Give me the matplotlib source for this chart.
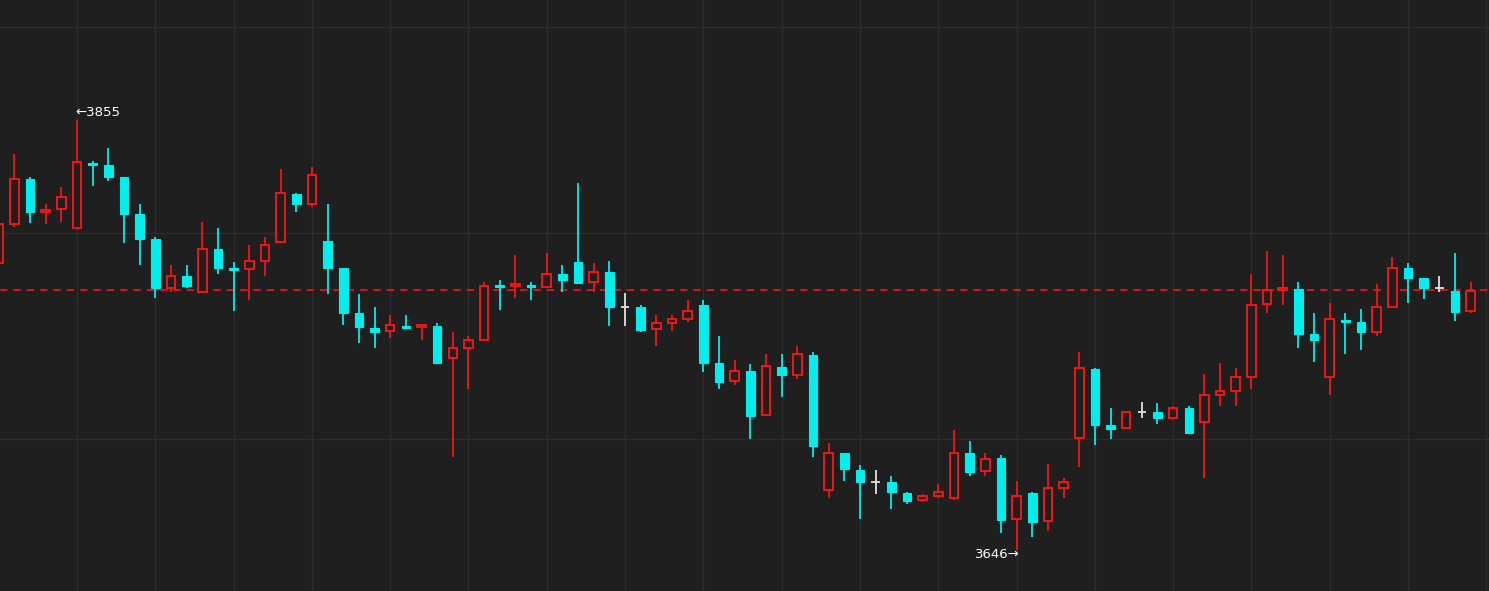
import numpy as np
import matplotlib.pyplot as plt

# -------------------------------------------------------------
#  DATOS
# -------------------------------------------------------------

opens = [3785.4, 3804.4, 3826.2, 3810.0, 3811.5, 3802.3, 3834.1, 3833.0, 3827.2, 3809.2,
         3797.1, 3773.2, 3779.1, 3771.2, 3792.2, 3782.9, 3782.4, 3786.3, 3795.5, 3818.9,
         3813.9, 3796.1, 3783.0, 3761.2, 3753.9, 3752.3, 3754.9, 3754.2, 3754.9, 3739.2,
         3744.0, 3747.9, 3774.8, 3774.1, 3774.8, 3773.9, 3780.1, 3785.9, 3776.1, 3781.1,
         3763.9, 3764.1, 3753.3, 3756.2, 3758.1, 3765.0, 3736.9, 3728.0, 3733.0, 3711.5,
         3735.0, 3730.9, 3740.8, 3675.1, 3693.2, 3685.0, 3679.0, 3679.1, 3673.6, 3670.2,
         3672.2, 3671.2, 3693.2, 3684.3, 3690.8, 3661.0, 3673.6, 3660.0, 3676.1, 3700.3,
         3733.8, 3706.6, 3705.2, 3713.0, 3713.0, 3710.0, 3715.0, 3708.1, 3721.2, 3723.2,
         3730.0, 3765.4, 3772.2, 3772.7, 3751.0, 3730.0, 3757.8, 3756.8, 3751.8, 3763.9,
         3782.9, 3778.0, 3773.2, 3771.8, 3762.0]

highs = [3805.3, 3838.3, 3827.2, 3813.9, 3822.2, 3855.0, 3835.1, 3841.1, 3827.2, 3813.9,
         3798.1, 3784.3, 3784.3, 3805.2, 3802.3, 3786.1, 3794.0, 3797.9, 3830.9, 3819.3,
         3831.9, 3813.9, 3783.0, 3770.2, 3764.1, 3760.0, 3760.0, 3755.2, 3756.2, 3752.1,
         3749.9, 3776.1, 3777.0, 3789.3, 3776.1, 3790.1, 3784.5, 3824.1, 3785.3, 3786.3,
         3770.9, 3764.9, 3760.0, 3760.0, 3767.3, 3767.3, 3749.9, 3738.2, 3736.3, 3741.1,
         3741.1, 3745.0, 3742.1, 3697.9, 3693.2, 3687.2, 3685.0, 3682.1, 3674.1, 3673.2,
         3678.0, 3704.2, 3698.9, 3693.1, 3692.1, 3679.8, 3674.1, 3688.0, 3680.9, 3742.1,
         3734.3, 3714.9, 3713.0, 3718.0, 3717.3, 3715.9, 3715.9, 3731.7, 3737.0, 3734.3,
         3780.0, 3791.1, 3789.2, 3776.1, 3761.0, 3765.9, 3761.0, 3763.0, 3775.1, 3788.2,
         3785.3, 3778.0, 3779.1, 3790.1, 3776.1]

lows = [3784.5, 3802.9, 3804.9, 3804.2, 3805.2, 3802.3, 3823.0, 3825.1, 3795.0, 3784.3,
        3768.3, 3771.2, 3773.2, 3771.2, 3780.1, 3762.1, 3767.3, 3779.0, 3795.5, 3810.0,
        3812.8, 3770.2, 3755.2, 3746.7, 3744.0, 3748.9, 3753.3, 3747.9, 3737.0, 3691.3,
        3724.1, 3747.9, 3762.8, 3768.3, 3767.3, 3773.2, 3771.2, 3775.9, 3771.2, 3755.0,
        3755.0, 3752.1, 3745.0, 3752.3, 3756.9, 3732.7, 3724.1, 3726.1, 3699.9, 3711.5,
        3720.2, 3729.0, 3691.1, 3671.2, 3679.8, 3661.0, 3673.2, 3665.9, 3668.3, 3669.3,
        3671.2, 3670.2, 3681.9, 3681.9, 3654.2, 3646.0, 3652.3, 3655.2, 3671.2, 3686.3,
        3696.9, 3699.9, 3705.2, 3710.0, 3707.1, 3710.0, 3703.1, 3681.1, 3715.9, 3716.0,
        3724.1, 3761.0, 3764.9, 3744.0, 3737.2, 3721.2, 3741.1, 3743.1, 3749.9, 3763.9,
        3765.9, 3768.1, 3771.2, 3757.1, 3761.0]

closes = [3804.4, 3826.2, 3810.2, 3811.0, 3817.3, 3834.3, 3833.2, 3827.3, 3809.4, 3797.2,
          3773.4, 3779.0, 3774.4, 3792.1, 3783.2, 3782.2, 3786.3, 3794.0, 3819.3, 3814.2,
          3828.0, 3783.2, 3761.3, 3754.5, 3752.1, 3755.2, 3754.0, 3755.2, 3737.0, 3744.0,
          3747.9, 3774.1, 3773.9, 3775.1, 3773.9, 3780.0, 3777.3, 3775.9, 3780.9, 3764.2,
          3763.9, 3752.9, 3756.2, 3758.1, 3762.0, 3737.0, 3727.8, 3732.9, 3711.3, 3735.3,
          3731.2, 3741.1, 3696.7, 3693.1, 3685.6, 3679.3, 3679.0, 3674.4, 3670.0, 3672.2,
          3674.1, 3693.1, 3684.1, 3690.1, 3660.8, 3672.2, 3659.9, 3676.1, 3679.0, 3734.3,
          3706.9, 3705.0, 3713.0, 3713.0, 3710.3, 3714.9, 3703.1, 3721.2, 3723.2, 3730.0,
          3764.9, 3772.2, 3773.2, 3751.1, 3748.2, 3758.1, 3756.9, 3752.1, 3763.9, 3782.9,
          3778.3, 3773.4, 3773.2, 3761.8, 3772.0]

prev_close = 3772.3

# -------------------------------------------------------------
#  ESTILO
# -------------------------------------------------------------

BG = '#1f1f1f'
GRID = '#2c2c2c'
UP = '#f01616'
DOWN = '#00eeee'
FLAT = '#e0e0e0'
ANCHO = 0.55

o = np.array(opens); h = np.array(highs); l = np.array(lows); c = np.array(closes)
x = np.arange(len(o))

fig = plt.figure(figsize=(14.89, 5.91), dpi=100, facecolor=BG)
ax = fig.add_axes([0, 0, 1, 1], facecolor=BG)

# rejilla
for gx in range(0, len(o) + 5, 5):
    ax.axvline(gx, color=GRID, lw=1, zorder=0)
for gy in [3700, 3800, 3900]:
    ax.axhline(gy, color=GRID, lw=1, zorder=0)

# linea de referencia (cierre anterior)
ax.axhline(prev_close, color=UP, lw=1.2, ls=(0, (4.5, 3.5)), zorder=1)

for i in x:
    if c[i] > o[i]:
        # vela alcista: hueca, roja
        ax.vlines(i, l[i], h[i], color=UP, lw=1.3, zorder=2)
        ax.bar(i, c[i] - o[i], bottom=o[i], width=ANCHO, facecolor=BG,
               edgecolor=UP, linewidth=1.4, zorder=3)
    elif c[i] < o[i]:
        # vela bajista: rellena, cian
        ax.vlines(i, l[i], h[i], color=DOWN, lw=1.3, zorder=2)
        ax.bar(i, o[i] - c[i], bottom=c[i], width=ANCHO, facecolor=DOWN,
               edgecolor=DOWN, linewidth=0.8, zorder=3)
    else:
        # doji
        ax.vlines(i, l[i], h[i], color=FLAT, lw=1.3, zorder=2)
        ax.hlines(o[i], i - ANCHO / 2, i + ANCHO / 2, color=FLAT, lw=1.3, zorder=3)

# maximo y minimo
imax = int(np.argmax(h)); imin = int(np.argmin(l))
ax.annotate(f"\u2190{h[imax]:.0f}", (imax, h[imax]), xytext=(-1, 5),
            textcoords='offset points', ha='left', va='center',
            color='white', fontsize=9.5)
ax.annotate(f"{l[imin]:.0f}\u2192", (imin, l[imin]), xytext=(2, -3),
            textcoords='offset points', ha='right', va='center',
            color='white', fontsize=9.5)

ax.set_xlim(0.083, 95.17)
ax.set_ylim(3626.2, 3913.1)
ax.axis('off')

fig.savefig('out.png', dpi=100, facecolor=BG)
